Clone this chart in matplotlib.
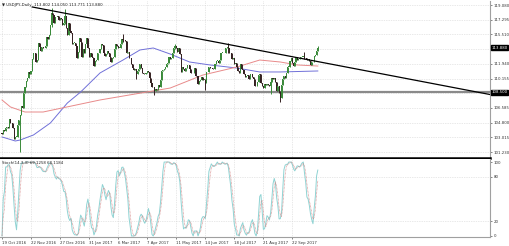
import matplotlib
matplotlib.use('Agg')
import matplotlib.pyplot as plt
import numpy as np

# ---------------- data ----------------
first_open = 103.5
closes = [
    103.4, 103.9, 103.8,
    104.1, 104.3, 104.2, 105.2, 104.7,
    104.8, 104.2, 102.8, 103.1, 103.1,
    104.5, 105.1, 105.7, 106.8, 106.6,
    108.4, 109.1, 109.9, 110.2, 110.9,
    110.7, 111.1, 112.5, 113.3, 113.2,
    112.1, 112.4, 114.5, 114.0, 113.5,
    114.0, 113.9, 113.8, 114.1, 115.2,
    115.0, 115.4, 116.6, 118.1, 117.9,
    116.9, 117.6, 117.6, 117.7, 117.3,
    117.5, 117.4, 116.6, 116.9,
    117.7, 116.3, 115.4, 116.9,
    115.9, 115.7, 114.4, 114.5, 114.5,
    114.1, 112.7, 113.4, 115.1, 114.6,
    112.8, 113.7, 113.3, 114.3, 115.1,
    113.8, 112.8, 113.3, 112.8, 112.6,
    111.7, 112.3, 112.4, 113.2, 113.2,
    113.7, 114.3, 114.2, 113.3, 112.9,
    113.1, 113.5, 113.3, 112.8, 112.1,
    112.7, 112.8, 113.7, 114.4, 114.1,
    113.9, 113.9, 114.4, 115.0, 114.8,
    114.8, 114.7, 113.3, 113.4, 112.7,
    112.6, 111.9, 111.4, 111.2, 111.3,
    110.7, 111.1, 111.3, 111.9, 111.4,
    110.8, 110.7, 110.7, 110.8, 111.1,
    110.9, 110.2, 109.6, 109.1, 109.1,
    108.6, 108.9, 108.8, 109.4, 109.1,
    110.0, 111.1, 111.2, 111.3, 111.5,
    111.9, 112.0, 112.8, 112.5, 112.7,
    113.3, 113.9, 114.1, 113.9, 113.4,
    113.8, 113.1, 110.9, 111.5, 111.3,
    111.1, 111.4, 111.8, 111.8, 111.3,
    110.8, 110.8, 110.8, 111.4, 110.4,
    110.4, 109.5, 109.8, 110.0, 110.3,
    110.0, 110.0, 109.6, 110.9, 110.9,
    111.5, 111.4, 111.4, 111.3, 111.3,
    111.9, 112.3, 112.3, 112.0, 112.4,
    113.3, 113.3, 113.2, 113.2, 113.9,
    114.0, 113.9, 113.2, 113.3, 112.5,
    112.6, 111.9, 112.0, 111.6, 111.1,
    110.8, 111.9, 111.3, 111.2, 110.7,
    110.3, 110.4, 110.6, 110.1, 110.7,
    110.7, 110.3, 110.1, 109.2, 109.2,
    109.7, 110.6, 110.7, 109.6, 109.2,
    109.0, 109.5, 109.4, 109.5, 109.4,
    109.2, 109.7, 110.2, 110.1, 110.2,
    109.7, 108.7, 109.2, 108.4, 107.8,
    109.4, 110.1, 110.5, 110.2, 110.8,
    111.6, 111.6, 112.3, 112.6, 112.0,
    111.7, 112.2, 112.8, 112.4, 112.5,
    112.7, 112.8, 112.8, 112.8, 112.6,
    112.7, 112.4, 112.5, 112.3, 111.8,
    112.2, 112.1, 112.9, 113.0, 113.5,
    113.88,
]
# notable wicks (bar index, high, low)
wick_bars = [15, 41, 52, 100, 111, 126, 143, 168, 187, 222, 230, 250, 261]
wick_highs = [105.5, 118.66, 118.6, 115.5, 111.2, 109.0, 114.4, 110.1, 114.5, 109.8, 108.6, 113.4, 114.05]
wick_lows = [101.2, 116.4, 116.8, 114.6, 110.1, 108.1, 113.7, 108.8, 113.2, 108.3, 107.3, 112.5, 113.77]

# moving averages (bar index, price)
ma_blue_x = [0, 11, 15, 26, 40, 54, 65, 81, 100, 114, 125, 139, 155, 172, 194, 213, 230, 261]
ma_blue_y = [103.06, 102.57, 102.69, 103.30, 104.76, 107.18, 108.52, 110.83, 112.40, 113.62,
             113.86, 113.13, 112.16, 111.80, 111.43, 110.95, 110.95, 111.07]
ma_red_x = [0, 7, 19, 34, 81, 139, 166, 194, 213, 230, 244, 261]
ma_red_y = [107.55, 106.70, 106.09, 106.09, 107.55, 109.00, 110.58, 111.55, 112.40, 112.16, 111.80, 111.67]

# trend line anchors and horizontal level
trend_x = [25, 240]
trend_y = [118.84, 112.80]
h_level = 108.50
last_price = 113.88

price_ticks = [119.080, 117.295, 115.510, 111.940, 110.155, 106.585, 104.800, 103.015, 101.230]
grid_prices = [119.080, 117.295, 115.510, 113.725, 111.940, 110.155, 108.370, 106.585, 104.800, 103.015, 101.230]
date_ticks = [0, 24, 48, 72, 96, 120, 144, 168, 192, 216, 240]
date_labels = ["19 Oct 2016", "22 Nov 2016", "27 Dec 2016", "31 Jan 2017", "6 Mar 2017",
               "7 Apr 2017", "11 May 2017", "14 Jun 2017", "18 Jul 2017", "21 Aug 2017",
               "22 Sep 2017"]
stoch_ticks = [100, 80, 20, 0]

header = "\u25bc USDJPY,Daily  113.802 114.050 113.771 113.880"
stoch_header = "Stoch(14,3,3) 69.1258 68.1184"

# ---------------- derived ----------------
c = np.array(closes)
n = len(c)
o = np.concatenate([[first_open], c[:-1]])
hi = np.maximum(o, c)
lo = np.minimum(o, c)
for b, h, l in zip(wick_bars, wick_highs, wick_lows):
    hi[b] = max(hi[b], h)
    lo[b] = min(lo[b], l)
x = np.arange(n)

k_raw = np.empty(n)
for i in range(n):
    s = max(0, i - 13)
    hh = hi[s:i + 1].max()
    ll = lo[s:i + 1].min()
    k_raw[i] = 100 * (c[i] - ll) / (hh - ll) if hh > ll else 50

def sma(a, p):
    out = np.empty_like(a)
    for i in range(len(a)):
        out[i] = a[max(0, i - p + 1):i + 1].mean()
    return out

k_main = sma(k_raw, 3)
k_sig = sma(k_main, 3)

# ---------------- figure ----------------
W, H = 510, 246
fig = plt.figure(figsize=(W / 100, H / 100), dpi=100)
fig.patch.set_facecolor('white')

px = 1.21
x_left = -2 / px
x_right = (490 - 2) / px

def fy(p):
    return 1 - p / H

ax = fig.add_axes([0, fy(158), 490 / W, (158 - 1) / H])
ax2 = fig.add_axes([0, fy(237), 490 / W, (237 - 159) / H])

fs = 2.8
grid_col = '#d2d2d2'
txt_col = '#333333'

# main panel
ax.set_xlim(x_left, x_right)
ax.set_ylim(119.08 - 153 * 0.1214, 119.08 + 4 * 0.1214)
for gp in grid_prices:
    ax.axhline(gp, color=grid_col, lw=0.5, ls=(0, (1, 1.5)), zorder=0)
for dt in date_ticks:
    ax.axvline(dt, color=grid_col, lw=0.5, ls=(0, (1, 1.5)), zorder=0)

up = c >= o
col_up = '#3a8a3a'
col_dn = '#352222'
colors = np.where(up, col_up, col_dn)
ax.vlines(x, lo, hi, colors=colors, lw=0.7, zorder=3)
body_h = np.maximum(np.abs(c - o), 0.05)
ax.bar(x, body_h, bottom=np.minimum(o, c), width=0.9, color=colors, linewidth=0, zorder=3)

ax.plot(ma_blue_x, ma_blue_y, color='#7070d8', lw=0.7, zorder=2)
ax.plot(ma_red_x, ma_red_y, color='#e88a8a', lw=0.7, zorder=2)

slope = (trend_y[1] - trend_y[0]) / (trend_x[1] - trend_x[0])
ax.plot([trend_x[0], x_right], [trend_y[0], trend_y[0] + slope * (x_right - trend_x[0])],
        color='black', lw=0.9, zorder=4)
ax.axhline(h_level, color='#8a8a8a', lw=1.6, zorder=1)

ax.yaxis.tick_right()
ax.set_yticks(price_ticks)
ax.set_yticklabels([f"{v:.3f}" for v in price_ticks], fontsize=fs, color=txt_col)
ax.tick_params(axis='y', length=1.5, width=0.5, pad=1.2, colors='#555555', labelcolor=txt_col)
ax.set_xticks([])
for s in ['left', 'top']:
    ax.spines[s].set_visible(False)
ax.spines['right'].set_color('#a0a0a0')
ax.spines['bottom'].set_color('black')
ax.spines['bottom'].set_linewidth(1.8)

ax.text(2 / 490, 1 - 4 / 157, header, transform=ax.transAxes, fontsize=fs,
        va='center', ha='left', color='#222222')

for val in [last_price, h_level]:
    ax.annotate(f"{val:.3f}", xy=(1.0, val), xycoords=('axes fraction', 'data'),
                xytext=(1.2, 0), textcoords='offset points', fontsize=fs, color='white',
                va='center', ha='left',
                bbox=dict(boxstyle='square,pad=0.15', fc='black', ec='black'))

# lower panel
ax2.set_xlim(x_left, x_right)
ax2.set_ylim(-1.4, 104.1)
for gv in [80, 20]:
    ax2.axhline(gv, color=grid_col, lw=0.5, ls=(0, (1, 1.5)), zorder=0)
for dt in date_ticks:
    ax2.axvline(dt, color=grid_col, lw=0.5, ls=(0, (1, 1.5)), zorder=0)
ax2.plot(x, k_main, color='#8fd3d3', lw=0.7, zorder=2)
ax2.plot(x, k_sig, color='#d07a7a', lw=0.5, ls=(0, (1, 1)), zorder=3)

ax2.yaxis.tick_right()
ax2.set_yticks(stoch_ticks)
ax2.set_yticklabels([str(v) for v in stoch_ticks], fontsize=fs)
ax2.tick_params(axis='y', length=1.5, width=0.5, pad=1.2, colors='#555555', labelcolor=txt_col)
ax2.set_xticks(date_ticks)
ax2.set_xticklabels(date_labels, fontsize=fs, ha='left')
ax2.tick_params(axis='x', length=1.5, width=0.5, pad=1.2, colors='#555555', labelcolor=txt_col)
for s in ['left', 'top']:
    ax2.spines[s].set_visible(False)
ax2.spines['right'].set_color('#a0a0a0')
ax2.spines['bottom'].set_color('#a0a0a0')

ax2.text(2 / 490, 1 - 4 / 78, stoch_header, transform=ax2.transAxes, fontsize=fs,
         va='center', ha='left', color='#222222')

fig.savefig('out.png', dpi=100, facecolor='white')
